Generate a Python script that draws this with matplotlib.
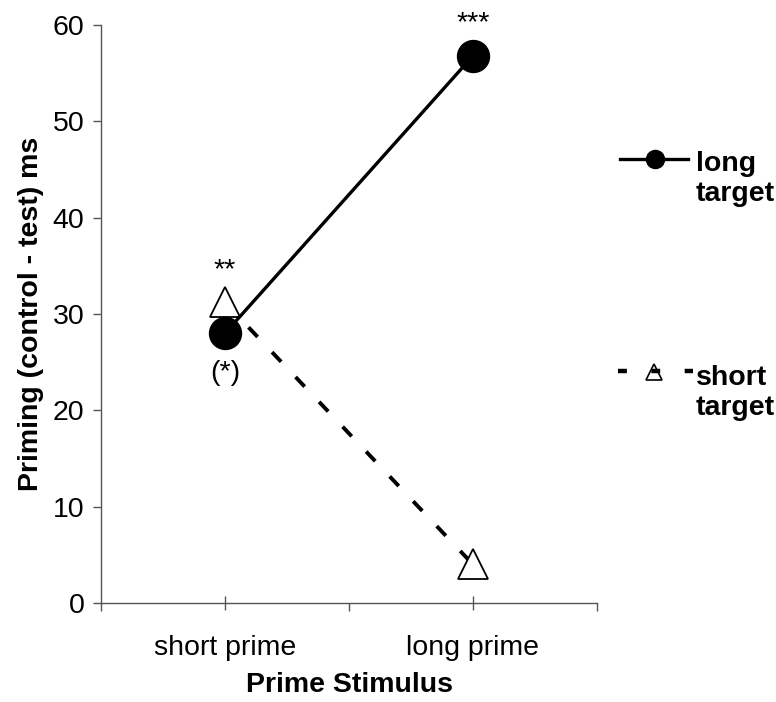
import matplotlib.pyplot as plt
from matplotlib.lines import Line2D

plt.rcParams['font.family'] = ['Liberation Sans', 'DejaVu Sans']

# data
primes = ["short prime", "long prime"]
long_target = [28.0, 56.8]
short_target = [31.2, 4.0]
long_stars = ["(*)", "***"]
short_stars = ["**", ""]

FS = 20.5

fig = plt.figure(figsize=(7.76, 7.02), dpi=100)
ax = fig.add_axes([101 / 776, 99 / 702, 496 / 776, 578 / 702])

x = list(range(len(primes)))

# short target (dashed, open triangles)
ax.plot(x, short_target, color="black", lw=2.8, dashes=(3.4, 5.4),
        marker="^", markersize=22, markerfacecolor="white",
        markeredgecolor="black", markeredgewidth=1.3, zorder=2)
# long target (solid, filled circles)
ax.plot(x, long_target, color="black", lw=2.4, marker="o", markersize=23,
        markerfacecolor="black", markeredgecolor="black", zorder=3)

# significance marks
ax.annotate(long_stars[0], (x[0], long_target[0]), xytext=(0, -19),
            textcoords="offset points", ha="center", va="top", fontsize=FS)
ax.annotate(long_stars[1], (x[1], long_target[1]), xytext=(0, 14),
            textcoords="offset points", ha="center", va="bottom", fontsize=FS)
ax.annotate(short_stars[0], (x[0], short_target[0]), xytext=(0, 14),
            textcoords="offset points", ha="center", va="bottom", fontsize=FS)

ax.set_xlim(-0.5, 1.5)
ax.set_ylim(0, 60)
ax.set_yticks(range(0, 61, 10))
ax.set_xticks([-0.5, 0.5, 1.5])
ax.set_xticklabels([])
ax.set_xticks(x, minor=True)
ax.set_xticklabels(primes, minor=True, fontsize=FS)
ax.tick_params(axis="x", which="major", direction="out", length=6, width=1, color="#555555")
ax.tick_params(axis="x", which="minor", direction="inout", length=10, width=1,
               color="#555555", pad=18)
ax.tick_params(axis="y", direction="out", length=6, width=1, color="#555555",
               labelsize=FS, pad=6)

for side in ["top", "right"]:
    ax.spines[side].set_visible(False)
for side in ["left", "bottom"]:
    ax.spines[side].set_color("#555555")
    ax.spines[side].set_linewidth(1)

ax.set_xlabel("Prime Stimulus", fontsize=FS, fontweight="bold", labelpad=8)
ax.set_ylabel("Priming (control - test) ms", fontsize=FS, fontweight="bold", labelpad=6)

# legend, drawn by hand
def fx(px):
    return px / 776

def fy(py):
    return 1 - py / 702

fig.add_artist(Line2D([fx(620), fx(688)], [fy(159), fy(159)], color="black", lw=2.4))
fig.add_artist(Line2D([fx(655)], [fy(159)], marker="o", markersize=13,
                      color="black", lw=0))
fig.text(fx(696), fy(151), "long\ntarget", fontsize=FS, fontweight="bold",
         va="top", ha="left", linespacing=1.22, multialignment="left")

fig.add_artist(Line2D([fx(654)], [fy(372)], marker="^", markersize=11,
                      markerfacecolor="white", markeredgecolor="black",
                      markeredgewidth=1.2, lw=0))
fig.add_artist(Line2D([fx(618), fx(693)], [fy(371), fy(371)], color="black",
                      lw=3.2, dashes=(2.0, 5.5), zorder=3))
fig.text(fx(696), fy(365), "short\ntarget", fontsize=FS, fontweight="bold",
         va="top", ha="left", linespacing=1.22, multialignment="left")

fig.savefig("out.png", dpi=100)
